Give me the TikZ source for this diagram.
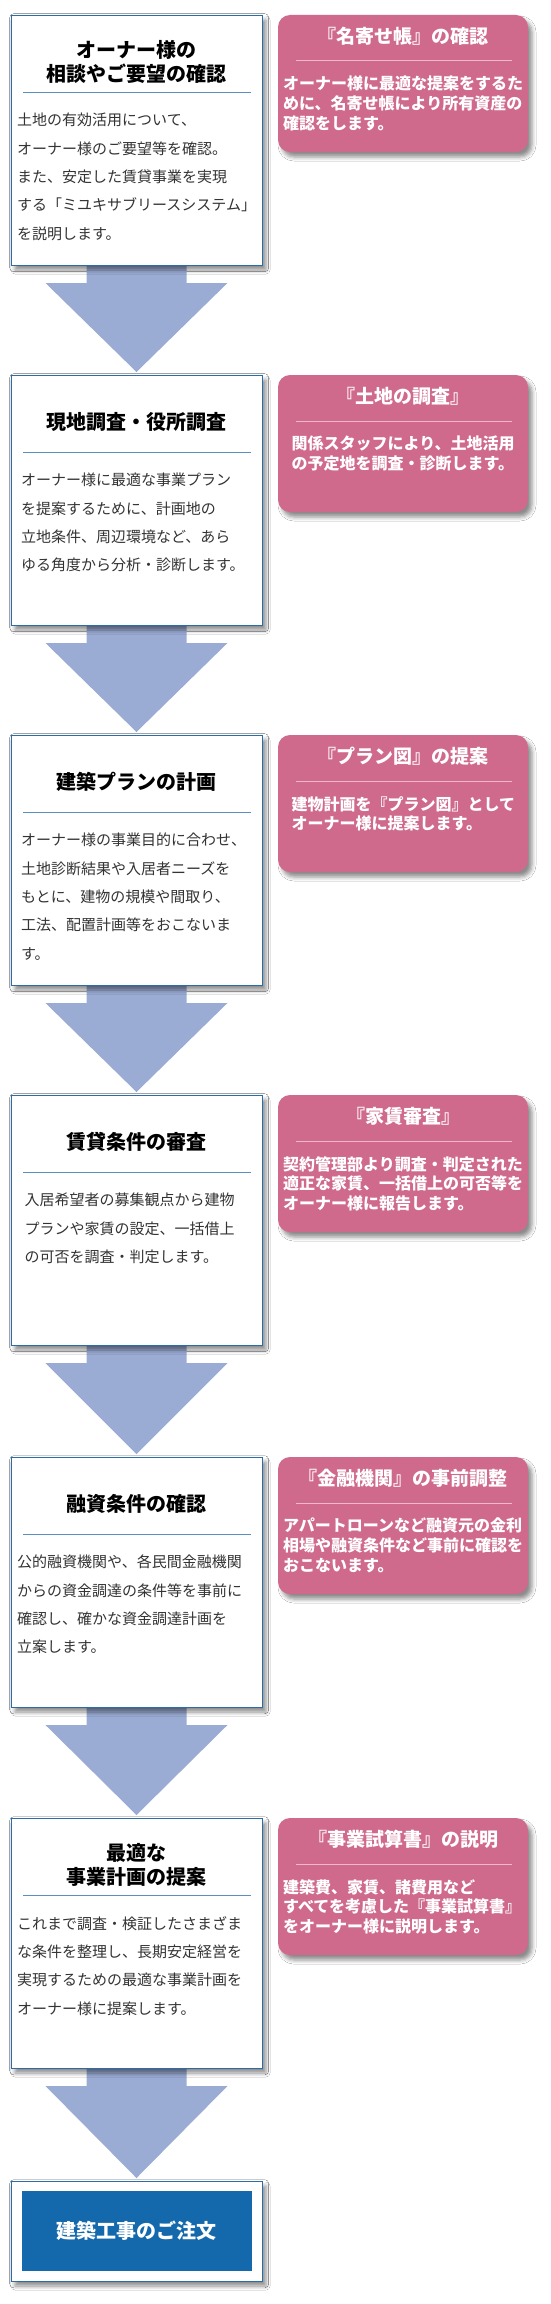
\documentclass[tikz,border=0pt]{standalone}
\usepackage{fontspec}
\setmainfont{Noto Sans CJK JP}
\usetikzlibrary{shadows.blur,calc}
\definecolor{boxblue}{HTML}{2C6DA6}
\definecolor{sepblue}{HTML}{5A8FBF}
\definecolor{pinkfill}{HTML}{CF6A8C}
\definecolor{pinksep}{HTML}{F4B8CB}
\definecolor{arrowblue}{HTML}{9AABD4}
\definecolor{orderblue}{HTML}{1468AC}
\definecolor{bodygray}{HTML}{333333}
\begin{document}
\begin{tikzpicture}[x=1pt,y=-1pt,
  shd/.style={blur shadow={shadow xshift=4pt, shadow yshift=-5pt, shadow blur radius=4pt, shadow opacity=45}},
  wbox/.style={draw=boxblue, line width=0.8pt, fill=white, minimum width=251pt, minimum height=250pt, anchor=north west, inner sep=0pt, outer sep=0pt, shd},
  pbox/.style={fill=pinkfill, rounded corners=12pt, minimum width=250pt, minimum height=137pt, anchor=north west, inner sep=0pt, outer sep=0pt, shd},
  wtitle/.style={font=\bfseries\fontsize{20}{24}\selectfont, align=center, text=black, inner sep=0pt},
  wbody/.style={font=\fontsize{15}{28.3}\selectfont, align=left, text=bodygray, anchor=north west, inner sep=0pt},
  ptitle/.style={font=\bfseries\fontsize{19}{23}\selectfont, text=white, inner sep=0pt},
  pbody/.style={font=\bfseries\fontsize{16}{19.7}\selectfont, text=white, align=left, anchor=north west, inner sep=0pt},
  arr/.style={fill=arrowblue},
  wsep/.style={draw=sepblue, line width=0.8pt},
  psep/.style={draw=pinksep, line width=1pt},
]
\useasboundingbox[fill=white] (0,0) rectangle (550,2304);

\coordinate (t0) at (11,15);
\coordinate (t1) at (11,375);
\coordinate (t2) at (11,735);
\coordinate (t3) at (11,1095);
\coordinate (t4) at (11,1457);
\coordinate (t5) at (11,1818);
\coordinate (tf) at (11,2181);

% invisible frames used to place the arrows behind the boxes
\path (t0) node[wbox, draw=none, fill=none, blur shadow={shadow opacity=0}] (a0) {};
\path (t1) node[wbox, draw=none, fill=none, blur shadow={shadow opacity=0}] (a1) {};
\path (t2) node[wbox, draw=none, fill=none, blur shadow={shadow opacity=0}] (a2) {};
\path (t3) node[wbox, draw=none, fill=none, blur shadow={shadow opacity=0}] (a3) {};
\path (t4) node[wbox, draw=none, fill=none, blur shadow={shadow opacity=0}] (a4) {};
\path (t5) node[wbox, draw=none, fill=none, blur shadow={shadow opacity=0}] (a5) {};
\path (tf) node[wbox, minimum height=100pt, draw=none, fill=none, blur shadow={shadow opacity=0}] (af) {};

\foreach \u/\v in {a0/a1,a1/a2,a2/a3,a3/a4,a4/a5,a5/af}{
  \fill[arr] ($(\u.south)+(-50,-2)$) -- ($(\u.south)+(50,-2)$) -- ($(\u.south)+(50,18)$)
    -- ($(\u.south)+(91,18)$) -- ($(\v.north)+(0,-3)$) -- ($(\u.south)+(-91,18)$)
    -- ($(\u.south)+(-50,18)$) -- cycle;
}

% ---------- Step 1
\node[wbox] (b0) at (t0) {};
\node[wtitle] (b0t) at ($(b0.north)+(0,47)$) {オーナー様の\\相談やご要望の確認};
\draw[wsep] ($(b0.north west)+(12,77)$) -- ($(b0.north east)+(-11,77)$);
\node[wbody] (b0b) at ($(b0.north west)+(6,98)$) {土地の有効活用について、\\オーナー様のご要望等を確認。\\また、安定した賃貸事業を実現\\する「ミユキサブリースシステム」\\を説明します。};
\node[pbox] (p0) at (278,15) {};
\node[ptitle] (p0t) at ($(p0.north)+(0,21)$) {『名寄せ帳』の確認};
\draw[psep] ($(p0.north west)+(18,46)$) -- ($(p0.north east)+(-16,46)$);
\node[pbody] (p0b) at ($(p0.north west)+(5,61)$) {オーナー様に最適な提案をするた\\めに、名寄せ帳により所有資産の\\確認をします。};

% ---------- Step 2
\node[wbox] (b1) at (t1) {};
\node[wtitle] (b1t) at ($(b1.north)+(0,47)$) {現地調査・役所調査};
\draw[wsep] ($(b1.north west)+(12,77)$) -- ($(b1.north east)+(-11,77)$);
\node[wbody] (b1b) at ($(b1.north west)+(10,98)$) {オーナー様に最適な事業プラン\\を提案するために、計画地の\\立地条件、周辺環境など、あら\\ゆる角度から分析・診断します。};
\node[pbox] (p1) at (278,375) {};
\node[ptitle] (p1t) at ($(p1.north)+(0,21)$) {『土地の調査』};
\draw[psep] ($(p1.north west)+(18,46)$) -- ($(p1.north east)+(-16,46)$);
\node[pbody] (p1b) at ($(p1.north west)+(13.5,61)$) {関係スタッフにより、土地活用\\の予定地を調査・診断します。};

% ---------- Step 3
\node[wbox] (b2) at (t2) {};
\node[wtitle] (b2t) at ($(b2.north)+(0,47)$) {建築プランの計画};
\draw[wsep] ($(b2.north west)+(12,77)$) -- ($(b2.north east)+(-11,77)$);
\node[wbody] (b2b) at ($(b2.north west)+(10,98)$) {オーナー様の事業目的に合わせ、\\土地診断結果や入居者ニーズを\\もとに、建物の規模や間取り、\\工法、配置計画等をおこないま\\す。};
\node[pbox] (p2) at (278,735) {};
\node[ptitle] (p2t) at ($(p2.north)+(0,21)$) {『プラン図』の提案};
\draw[psep] ($(p2.north west)+(18,46)$) -- ($(p2.north east)+(-16,46)$);
\node[pbody] (p2b) at ($(p2.north west)+(13.5,61)$) {建物計画を『プラン図』として\\オーナー様に提案します。};

% ---------- Step 4
\node[wbox] (b3) at (t3) {};
\node[wtitle] (b3t) at ($(b3.north)+(0,47)$) {賃貸条件の審査};
\draw[wsep] ($(b3.north west)+(12,77)$) -- ($(b3.north east)+(-11,77)$);
\node[wbody] (b3b) at ($(b3.north west)+(13.5,98)$) {入居希望者の募集観点から建物\\プランや家賃の設定、一括借上\\の可否を調査・判定します。};
\node[pbox] (p3) at (278,1095) {};
\node[ptitle] (p3t) at ($(p3.north)+(0,21)$) {『家賃審査』};
\draw[psep] ($(p3.north west)+(18,46)$) -- ($(p3.north east)+(-16,46)$);
\node[pbody] (p3b) at ($(p3.north west)+(5,61)$) {契約管理部より調査・判定された\\適正な家賃、一括借上の可否等を\\オーナー様に報告します。};

% ---------- Step 5
\node[wbox] (b4) at (t4) {};
\node[wtitle] (b4t) at ($(b4.north)+(0,47)$) {融資条件の確認};
\draw[wsep] ($(b4.north west)+(12,77)$) -- ($(b4.north east)+(-11,77)$);
\node[wbody] (b4b) at ($(b4.north west)+(6,98)$) {公的融資機関や、各民間金融機関\\からの資金調達の条件等を事前に\\確認し、確かな資金調達計画を\\立案します。};
\node[pbox] (p4) at (278,1457) {};
\node[ptitle] (p4t) at ($(p4.north)+(0,21)$) {『金融機関』の事前調整};
\draw[psep] ($(p4.north west)+(18,46)$) -- ($(p4.north east)+(-16,46)$);
\node[pbody] (p4b) at ($(p4.north west)+(5,61)$) {アパートローンなど融資元の金利\\相場や融資条件など事前に確認を\\おこないます。};

% ---------- Step 6
\node[wbox] (b5) at (t5) {};
\node[wtitle] (b5t) at ($(b5.north)+(0,47)$) {最適な\\事業計画の提案};
\draw[wsep] ($(b5.north west)+(12,77)$) -- ($(b5.north east)+(-11,77)$);
\node[wbody] (b5b) at ($(b5.north west)+(6,98)$) {これまで調査・検証したさまざま\\な条件を整理し、長期安定経営を\\実現するための最適な事業計画を\\オーナー様に提案します。};
\node[pbox] (p5) at (278,1818) {};
\node[ptitle] (p5t) at ($(p5.north)+(0,21)$) {『事業試算書』の説明};
\draw[psep] ($(p5.north west)+(18,46)$) -- ($(p5.north east)+(-16,46)$);
\node[pbody] (p5b) at ($(p5.north west)+(5,61)$) {建築費、家賃、諸費用など\\すべてを考慮した『事業試算書』\\をオーナー様に説明します。};

% ---------- Final
\node[wbox, minimum height=100pt] (fin) at (tf) {};
\node[fill=orderblue, minimum width=230pt, minimum height=80pt, inner sep=0pt, text=white,
      font=\bfseries\fontsize{20}{24}\selectfont] (order) at (fin.center) {建築工事のご注文};
\end{tikzpicture}
\end{document}
